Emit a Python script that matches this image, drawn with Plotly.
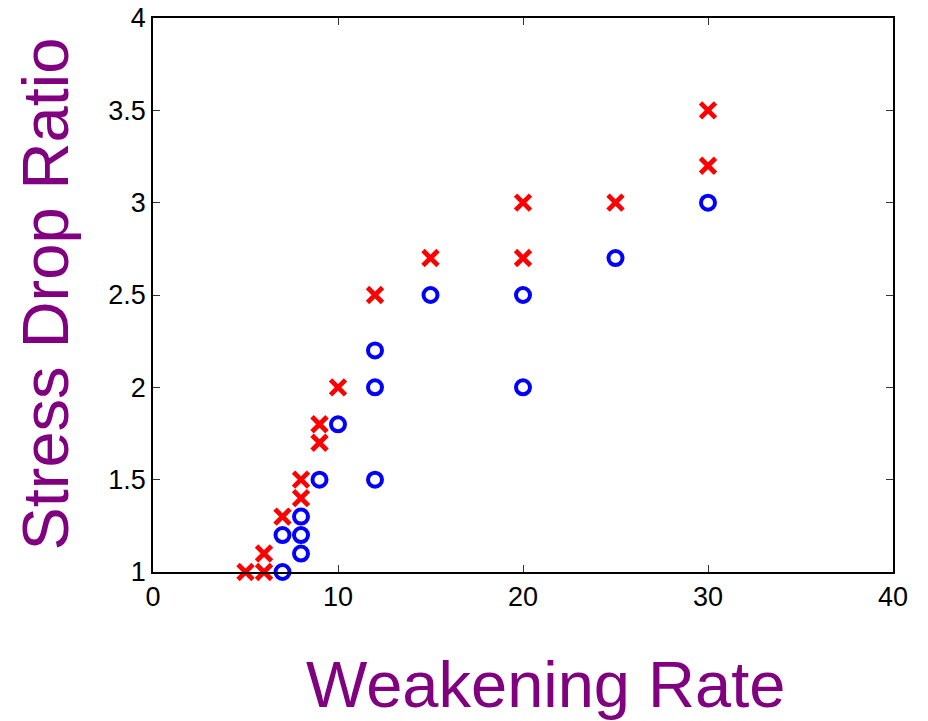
import plotly.graph_objects as go

# Data
red_x = [5, 6, 6, 7, 8, 8, 9, 9, 10, 12, 15, 20, 20, 25, 30, 30]
red_y = [1.0, 1.0, 1.1, 1.3, 1.4, 1.5, 1.7, 1.8, 2.0, 2.5, 2.7, 2.7, 3.0, 3.0, 3.2, 3.5]
blue_x = [7, 7, 8, 8, 8, 9, 10, 12, 12, 12, 15, 20, 20, 25, 30]
blue_y = [1.0, 1.2, 1.1, 1.2, 1.3, 1.5, 1.8, 1.5, 2.0, 2.2, 2.5, 2.0, 2.5, 2.7, 3.0]
x_ticks = [0, 10, 20, 30, 40]
y_ticks = [1, 1.5, 2, 2.5, 3, 3.5, 4]
y_tick_text = ["1", "1.5", "2", "2.5", "3", "3.5", "4"]

fig = go.Figure()
fig.add_trace(go.Scatter(
    x=red_x, y=red_y, mode="markers",
    marker=dict(symbol="x-thin-open", size=15, color="red",
                line=dict(color="red", width=4.8)),
    cliponaxis=False, showlegend=False))
fig.add_trace(go.Scatter(
    x=blue_x, y=blue_y, mode="markers",
    marker=dict(symbol="circle-open", size=14, color="blue",
                line=dict(color="blue", width=4)),
    cliponaxis=False, showlegend=False))

axis_common = dict(
    showgrid=False, zeroline=False, showline=True, linecolor="black",
    linewidth=1.8, mirror="ticks", ticks="inside", ticklen=7,
    tickcolor="#333333", tickwidth=1, automargin=False,
    ticklabeloverflow="allow",
    tickfont=dict(family="Liberation Sans, Arial", size=27, color="black"),
)

fig.update_layout(
    width=920, height=713,
    margin=dict(l=145, r=35, t=10, b=149),
    paper_bgcolor="white", plot_bgcolor="white",
    xaxis=dict(range=[0, 40], tickvals=x_ticks, ticktext=[str(v) for v in x_ticks],
               **axis_common),
    yaxis=dict(range=[1, 4], tickvals=y_ticks, ticktext=y_tick_text, **axis_common),
    annotations=[
        dict(text="Weakening Rate", xref="paper", yref="paper", x=0.530, y=-0.203,
             xanchor="center", yanchor="middle", showarrow=False,
             font=dict(family="Liberation Sans, Arial", size=65, color="#800080")),
        dict(text="Stress Drop Ratio", xref="paper", yref="paper", x=-0.145, y=0.502,
             xanchor="center", yanchor="middle", showarrow=False, textangle=-90,
             font=dict(family="Liberation Sans, Arial", size=65, color="#800080")),
    ],
    shapes=[
        dict(type="line", xref="paper", yref="paper", x0=1.045, x1=1.045,
             y0=-0.27, y1=1.04, line=dict(color="#666666", width=2)),
    ],
)

fig.write_html("out.html")
